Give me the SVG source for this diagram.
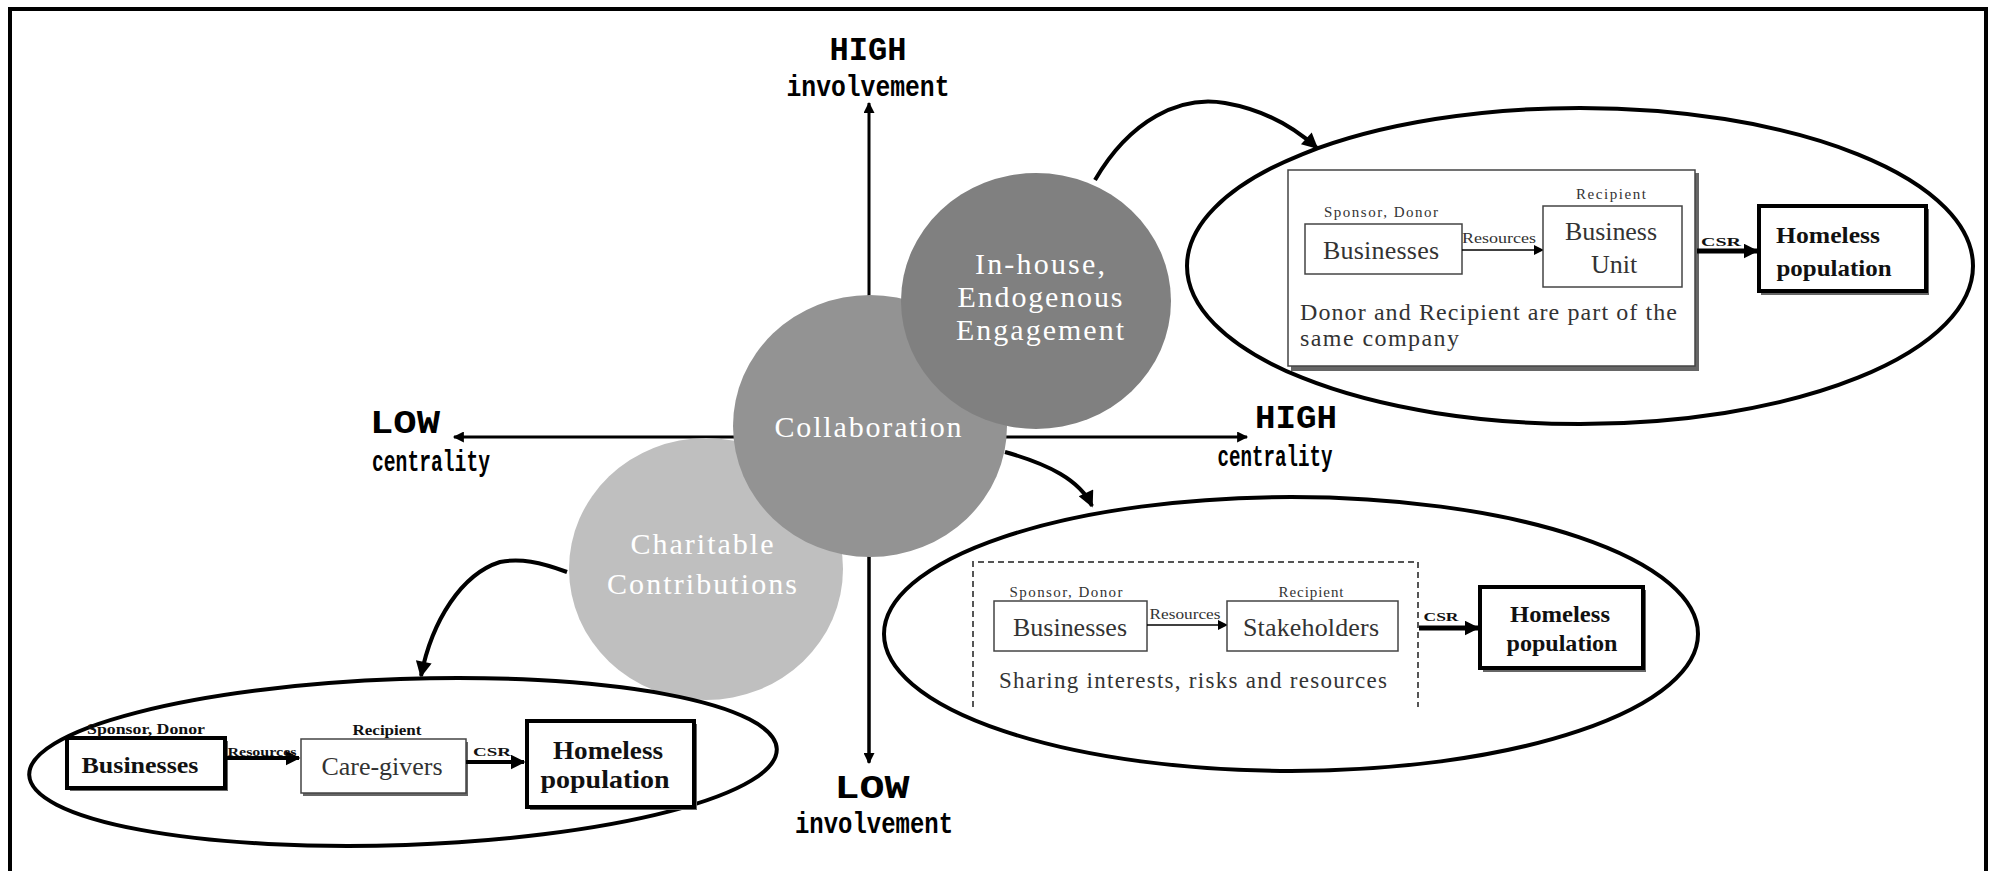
<svg xmlns="http://www.w3.org/2000/svg" width="1993" height="871" viewBox="0 0 1993 871">
<style>
.ax{font-family:"Liberation Mono",monospace;font-weight:bold;fill:#000;text-anchor:middle}
.circ{font-family:"Liberation Serif",serif;fill:#fff;text-anchor:middle;font-size:30px}
.reg{font-family:"Liberation Serif",serif;fill:#333;text-anchor:middle}
.bld{font-family:"Liberation Serif",serif;font-weight:bold;fill:#111;text-anchor:middle}
.ell{fill:none;stroke:#000;stroke-width:4}
.thin{fill:#fff;stroke:#444;stroke-width:1.5}
.thick{fill:#fff;stroke:#000;stroke-width:4}
.shadow{fill:#666}
.conn{fill:none;stroke:#000;stroke-width:4}
</style>
<defs>
<marker id="axh" viewBox="0 0 10 10" refX="9" refY="5" markerWidth="12" markerHeight="11" markerUnits="userSpaceOnUse" orient="auto"><path d="M0,0 L10,5 L0,10 z" fill="#000"/></marker>
<marker id="big" viewBox="0 0 10 10" refX="9" refY="5" markerWidth="18" markerHeight="16" markerUnits="userSpaceOnUse" orient="auto"><path d="M0,0 L10,5 L0,10 z" fill="#000"/></marker>
<marker id="sm" viewBox="0 0 10 10" refX="9" refY="5" markerWidth="11" markerHeight="10" markerUnits="userSpaceOnUse" orient="auto"><path d="M0,0 L10,5 L0,10 z" fill="#000"/></marker>
<marker id="csr" viewBox="0 0 10 10" refX="9" refY="5" markerWidth="15" markerHeight="15" markerUnits="userSpaceOnUse" orient="auto"><path d="M0,0 L10,5 L0,10 z" fill="#000"/></marker>
</defs>
<rect width="1993" height="871" fill="#fff"/>
<path d="M10,871 V9 H1986 V871" fill="none" stroke="#000" stroke-width="4"/>

<g id="axes">
<line x1="869" y1="762" x2="869" y2="103" stroke="#000" stroke-width="3" marker-end="url(#axh)"/>
<line x1="869" y1="300" x2="869" y2="763" stroke="#000" stroke-width="3" marker-end="url(#axh)"/>
<line x1="870" y1="437" x2="1247" y2="437" stroke="#000" stroke-width="3" marker-end="url(#axh)"/>
<line x1="870" y1="437" x2="454" y2="437" stroke="#000" stroke-width="3" marker-end="url(#axh)"/>
<text class="ax" x="868" y="60" font-size="34" textLength="77" lengthAdjust="spacingAndGlyphs">HIGH</text>
<text class="ax" x="868" y="96" font-size="30" textLength="163" lengthAdjust="spacingAndGlyphs">involvement</text>
<text class="ax" x="872" y="798" font-size="34" textLength="75" lengthAdjust="spacingAndGlyphs">LOW</text>
<text class="ax" x="874" y="833" font-size="30" textLength="158" lengthAdjust="spacingAndGlyphs">involvement</text>
<text class="ax" x="405" y="433" font-size="34" textLength="70" lengthAdjust="spacingAndGlyphs">LOW</text>
<text class="ax" x="431" y="471" font-size="30" textLength="118" lengthAdjust="spacingAndGlyphs">centrality</text>
<text class="ax" x="1296" y="428" font-size="34" textLength="82" lengthAdjust="spacingAndGlyphs">HIGH</text>
<text class="ax" x="1275" y="466" font-size="30" textLength="115" lengthAdjust="spacingAndGlyphs">centrality</text>
</g>

<g id="charitable">
<ellipse cx="706" cy="569" rx="137" ry="131" fill="#bfbfbf"/>
<text class="circ" x="702" y="554" textLength="143" lengthAdjust="spacing">Charitable</text>
<text class="circ" x="702" y="594" textLength="190" lengthAdjust="spacing">Contributions</text>
</g>
<g id="collaboration">
<ellipse cx="870" cy="426" rx="137" ry="131" fill="#939393"/>
<text class="circ" x="868" y="437" textLength="187" lengthAdjust="spacing">Collaboration</text>
</g>
<g id="inhouse">
<ellipse cx="1036" cy="301" rx="135" ry="128" fill="#808080"/>
<text class="circ" x="1040" y="274" textLength="130">In-house,</text>
<text class="circ" x="1040" y="307" textLength="165">Endogenous</text>
<text class="circ" x="1040" y="340" textLength="168">Engagement</text>
</g>

<g id="connectors">
<path class="conn" d="M1095,180 C1130,120 1180,95 1225,103 C1265,110 1295,128 1317,148" marker-end="url(#big)"/>
<path class="conn" d="M1005,452 C1048,464 1080,480 1092,506" marker-end="url(#big)"/>
<path class="conn" d="M567,572 C540,562 520,558 500,562 C462,574 432,620 421,676" marker-end="url(#big)"/>
</g>

<g id="inhouse-detail">
<ellipse class="ell" cx="1580" cy="266" rx="393" ry="158"/>
<rect class="shadow" x="1291" y="173" width="408" height="198"/>
<rect class="thin" x="1288" y="170" width="407" height="196"/>
<rect class="thin" x="1305" y="224" width="157" height="50"/>
<text class="reg" x="1381" y="217" font-size="15" textLength="114">Sponsor, Donor</text>
<text class="reg" x="1381" y="259" font-size="26" textLength="116">Businesses</text>
<line x1="1462" y1="250" x2="1543" y2="250" stroke="#000" stroke-width="1.5" marker-end="url(#sm)"/>
<text class="reg" x="1499" y="243" font-size="14" textLength="74" lengthAdjust="spacingAndGlyphs">Resources</text>
<rect class="thin" x="1543" y="206" width="139" height="81"/>
<text class="reg" x="1611" y="199" font-size="15" textLength="70">Recipient</text>
<text class="reg" x="1611" y="240" font-size="26" textLength="92">Business</text>
<text class="reg" x="1614" y="273" font-size="26">Unit</text>
<text class="reg" x="1300" y="320" font-size="24" text-anchor="start" style="text-anchor:start" textLength="377">Donor and Recipient are part of the</text>
<text class="reg" x="1300" y="346" font-size="24" style="text-anchor:start" textLength="159">same company</text>
<line x1="1697" y1="251" x2="1757" y2="251" stroke="#000" stroke-width="5" marker-end="url(#csr)"/>
<text class="bld" x="1721" y="246" font-size="13" textLength="40" lengthAdjust="spacingAndGlyphs">CSR</text>
<rect class="shadow" x="1761" y="209" width="168" height="86"/>
<rect class="thick" x="1759" y="206" width="167" height="85"/>
<text class="bld" x="1828" y="243" font-size="24" textLength="104" lengthAdjust="spacingAndGlyphs">Homeless</text>
<text class="bld" x="1834" y="276" font-size="24" textLength="115" lengthAdjust="spacingAndGlyphs">population</text>
</g>

<g id="collab-detail">
<ellipse class="ell" cx="1291" cy="634" rx="407" ry="137"/>
<path d="M973,707 V562 H1418 V707" fill="none" stroke="#555" stroke-width="2" stroke-dasharray="6 4"/>
<rect class="thin" x="994" y="601" width="153" height="50"/>
<text class="reg" x="1066" y="597" font-size="15" textLength="113">Sponsor, Donor</text>
<text class="reg" x="1070" y="636" font-size="26" textLength="114">Businesses</text>
<line x1="1147" y1="625" x2="1227" y2="625" stroke="#000" stroke-width="1.5" marker-end="url(#sm)"/>
<text class="reg" x="1185" y="619" font-size="14" textLength="71" lengthAdjust="spacingAndGlyphs">Resources</text>
<rect class="thin" x="1227" y="601" width="171" height="50"/>
<text class="reg" x="1311" y="597" font-size="15" textLength="65">Recipient</text>
<text class="reg" x="1311" y="636" font-size="26" textLength="136">Stakeholders</text>
<text class="reg" x="999" y="688" font-size="23" style="text-anchor:start" textLength="388">Sharing interests, risks and resources</text>
<line x1="1419" y1="628" x2="1478" y2="628" stroke="#000" stroke-width="5" marker-end="url(#csr)"/>
<text class="bld" x="1441" y="621" font-size="13" textLength="35" lengthAdjust="spacingAndGlyphs">CSR</text>
<rect class="shadow" x="1483" y="590" width="163" height="82"/>
<rect class="thick" x="1480" y="587" width="163" height="81"/>
<text class="bld" x="1560" y="622" font-size="24" textLength="100" lengthAdjust="spacingAndGlyphs">Homeless</text>
<text class="bld" x="1562" y="651" font-size="24" textLength="111" lengthAdjust="spacingAndGlyphs">population</text>
</g>

<g id="charitable-detail">
<ellipse class="ell" cx="403" cy="762" rx="374" ry="83" transform="rotate(-2 403 762)"/>
<rect class="shadow" x="70" y="741" width="158" height="50"/>
<rect class="thick" x="67" y="738" width="158" height="50"/>
<text class="bld" x="146" y="734" font-size="14" textLength="118" lengthAdjust="spacingAndGlyphs">Sponsor, Donor</text>
<text class="bld" x="140" y="773" font-size="24" textLength="117" lengthAdjust="spacingAndGlyphs">Businesses</text>
<line x1="225" y1="758" x2="299" y2="758" stroke="#000" stroke-width="4" marker-end="url(#csr)"/>
<text class="bld" x="262" y="756" font-size="12" textLength="69" lengthAdjust="spacingAndGlyphs">Resources</text>
<rect class="shadow" x="303" y="742" width="165" height="54"/>
<rect class="thin" x="301" y="739" width="165" height="54"/>
<text class="bld" x="387" y="735" font-size="14" textLength="69" lengthAdjust="spacingAndGlyphs">Recipient</text>
<text class="reg" x="382" y="775" font-size="26" textLength="121" fill="#444">Care-givers</text>
<line x1="466" y1="762" x2="524" y2="762" stroke="#000" stroke-width="4" marker-end="url(#csr)"/>
<text class="bld" x="492" y="756" font-size="13" textLength="38" lengthAdjust="spacingAndGlyphs">CSR</text>
<rect class="shadow" x="530" y="724" width="167" height="86"/>
<rect class="thick" x="527" y="721" width="167" height="86"/>
<text class="bld" x="608" y="759" font-size="26" textLength="110" lengthAdjust="spacingAndGlyphs">Homeless</text>
<text class="bld" x="605" y="788" font-size="26" textLength="129" lengthAdjust="spacingAndGlyphs">population</text>
</g>
</svg>
